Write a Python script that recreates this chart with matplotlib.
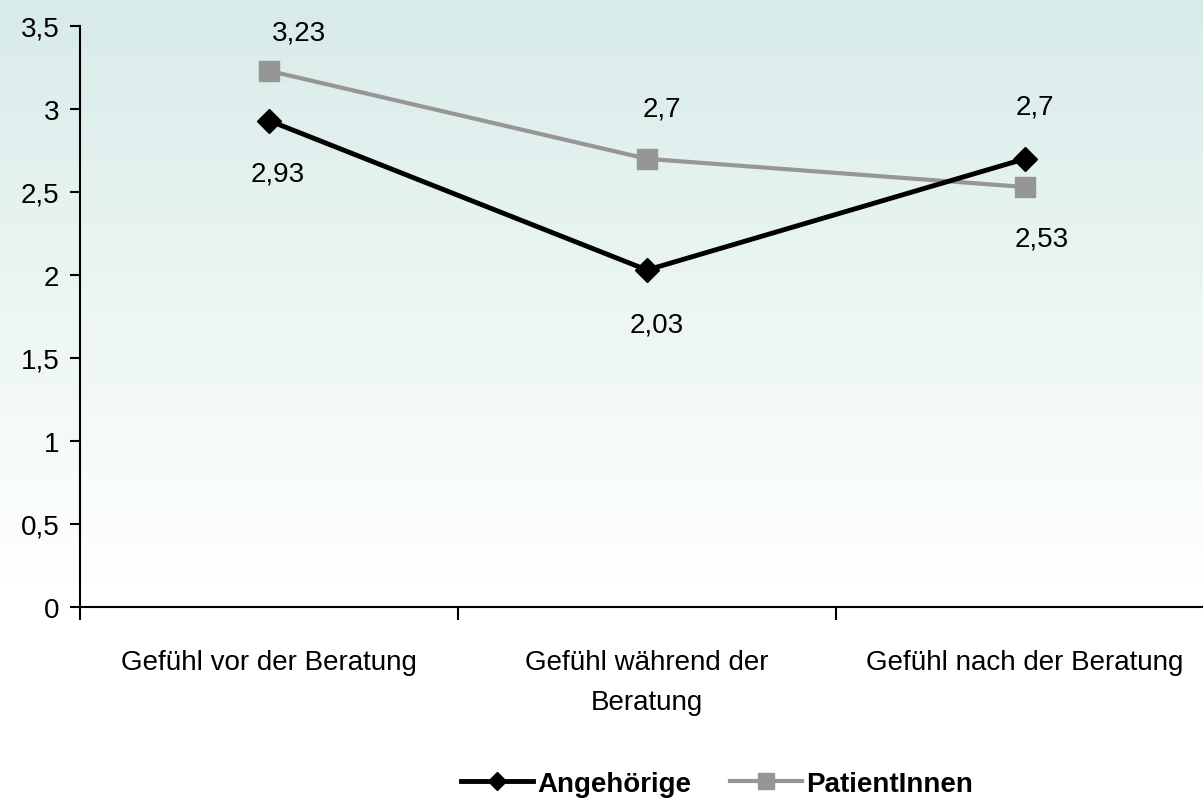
import numpy as np
import matplotlib
matplotlib.use("Agg")
from matplotlib import pyplot as plt
from matplotlib.colors import LinearSegmentedColormap

categories = ["Gefühl vor der Beratung", "Gefühl während der\nBeratung", "Gefühl nach der Beratung"]
angehoerige = [2.93, 2.03, 2.7]
patienten = [3.23, 2.7, 2.53]

# label offsets in pixels (dx, dy), positive dy = above the point
ang_off = [(9, -53), (10, -54), (10, 52)]
pat_off = [(30, 38), (15, 50), (17, -51)]

plt.rcParams['font.family'] = ['Liberation Sans', 'DejaVu Sans']
FS = 20

W, H = 1203, 812
fig = plt.figure(figsize=(W / 100, H / 100), dpi=100)

# gradient background behind everything
bg = fig.add_axes([0, 0, 1, 1], zorder=-10)
grad = np.linspace(0, 1, 256).reshape(-1, 1)
cmap = LinearSegmentedColormap.from_list(
    "bg", [(0, "#ffffff"), (0.28, "#ffffff"), (0.45, "#f5fbfa"), (1, "#d8ebe8")])
bg.imshow(grad, aspect="auto", cmap=cmap, origin="lower", extent=[0, 1, 0, 1])
bg.axis("off")

left, right = 80 / W, 1214 / W
top, bottom = 27 / H, 608 / H
ax = fig.add_axes([left, 1 - bottom, right - left, bottom - top])
ax.patch.set_alpha(0)

x = np.arange(len(categories))
ax.plot(x, patienten, color="#969696", lw=3, marker="s", ms=15, zorder=3,
        label="PatientInnen")
ax.plot(x, angehoerige, color="black", lw=3.5, marker="D", ms=12, zorder=4,
        label="Angehörige")


def fmt(v):
    return ("%g" % v).replace(".", ",")


px = 72 / 100.0
for xi, v, (dx, dy) in zip(x, angehoerige, ang_off):
    ax.annotate(fmt(v), (xi, v), xytext=(dx * px, dy * px), textcoords="offset points",
                ha="center", va="center", fontsize=FS)
for xi, v, (dx, dy) in zip(x, patienten, pat_off):
    ax.annotate(fmt(v), (xi, v), xytext=(dx * px, dy * px), textcoords="offset points",
                ha="center", va="center", fontsize=FS)

ax.set_xlim(-0.5, 2.5)
ax.set_ylim(0, 3.5)
yt = np.arange(0, 3.51, 0.5)
ax.set_yticks(yt)
ax.set_yticklabels([fmt(v) for v in yt], fontsize=FS)
ax.set_xticks([-0.5, 0.5, 1.5, 2.5])
ax.set_xticklabels([])
ax.set_xticks(x, minor=True)
ax.set_xticklabels(categories, minor=True, fontsize=FS, linespacing=1.7)
ax.tick_params(axis="x", which="minor", length=0, pad=30)
ax.tick_params(axis="x", which="major", length=9, width=1.5, direction="out")
ax.tick_params(axis="y", length=7, width=1.5, pad=8)
for s in ["top", "right"]:
    ax.spines[s].set_visible(False)
for s in ["left", "bottom"]:
    ax.spines[s].set_linewidth(1.5)

handles, labels = ax.get_legend_handles_labels()
fig.legend(handles[::-1], labels[::-1], loc="center", bbox_to_anchor=(0.596, 1 - 785 / H),
           ncol=2, frameon=False, prop={"size": FS, "weight": "bold"},
           handlelength=2.6, handletextpad=0.15, columnspacing=1.4, markerscale=0.8)

fig.savefig("out.png", dpi=100)
